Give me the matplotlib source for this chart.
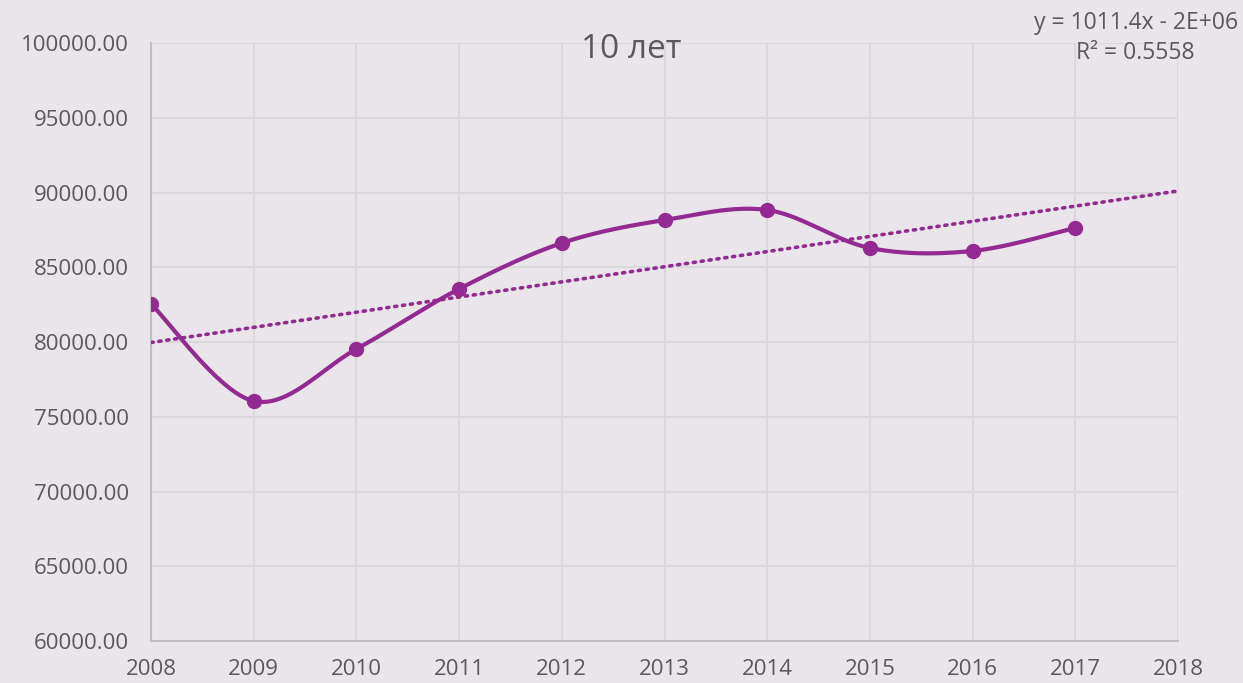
import matplotlib
import matplotlib.pyplot as plt
import numpy as np

matplotlib.use('AGG')

# data
years = [2008, 2009, 2010, 2011, 2012, 2013, 2014, 2015, 2016, 2017]
values = [82540, 76050, 79530, 83550, 86620, 88160, 88830, 86290, 86090, 87630]
title = "10 лет"
equation = "y = 1011.4x - 2E+06"
r_squared = "R² = 0.5558"

purple = '#932A91'
bg = '#E9E5EB'
text_col = '#595959'


def smooth_curve(x, y, n=40):
    # Catmull-Rom style bezier, similar to Excel's smoothed line
    x = np.asarray(x, float)
    y = np.asarray(y, float)
    px = np.concatenate([[x[0]], x, [x[-1]]])
    py = np.concatenate([[y[0]], y, [y[-1]]])
    xs, ys = [], []
    t = np.linspace(0, 1, n)
    for i in range(1, len(px) - 2):
        p0 = np.array([px[i], py[i]])
        p3 = np.array([px[i + 1], py[i + 1]])
        c1 = p0 + (p3 - np.array([px[i - 1], py[i - 1]])) / 6
        c2 = p3 - (np.array([px[i + 2], py[i + 2]]) - p0) / 6
        b = ((1 - t) ** 3)[:, None] * p0 + (3 * (1 - t) ** 2 * t)[:, None] * c1 \
            + (3 * (1 - t) * t ** 2)[:, None] * c2 + (t ** 3)[:, None] * p3
        xs.extend(b[:, 0])
        ys.extend(b[:, 1])
    return np.array(xs), np.array(ys)


plt.rcParams['font.family'] = ['Open Sans', 'DejaVu Sans']

fig = plt.figure(figsize=(12.43, 6.83), dpi=100, facecolor=bg)
ax = fig.add_axes([0.1215, 0.0615, 0.8262, 0.8755])
ax.set_facecolor(bg)

# trend line
slope, intercept = np.polyfit(years, values, 1)
tx = np.array([2008, 2018])
ax.plot(tx, slope * tx + intercept, linestyle=(0, (0.6, 1.6)), color=purple,
        linewidth=2.6, dash_capstyle='round', zorder=3)

sx, sy = smooth_curve(years, values)
ax.plot(sx, sy, color=purple, linewidth=3, zorder=4)
ax.plot(years, values, 'o', color=purple, markersize=10, zorder=5)

ax.set_xlim(2008, 2018)
ax.set_ylim(60000, 100000)
ax.set_xticks(range(2008, 2019))
ax.set_yticks(range(60000, 100001, 5000))
ax.set_yticklabels([f"{v:.2f}" for v in range(60000, 100001, 5000)])
ax.grid(True, color='#D9D9D9', linewidth=1.5)
ax.set_axisbelow(True)
for s in ['top', 'right']:
    ax.spines[s].set_visible(False)
for s in ['left', 'bottom']:
    ax.spines[s].set_color('#BFBFBF')
    ax.spines[s].set_linewidth(1.5)
ax.tick_params(length=0, labelsize=16, colors=text_col)
ax.tick_params(axis='y', pad=16)
ax.tick_params(axis='x', pad=13)

fig.text(0.508, 0.928, title, ha='center', va='center', fontsize=24, color=text_col)
fig.text(0.996, 0.967, equation, ha='right', va='center', fontsize=16.5, color=text_col)
fig.text(0.961, 0.922, r_squared, ha='right', va='center', fontsize=16.5, color=text_col)

plt.savefig('out.png', dpi=100, facecolor=bg)
